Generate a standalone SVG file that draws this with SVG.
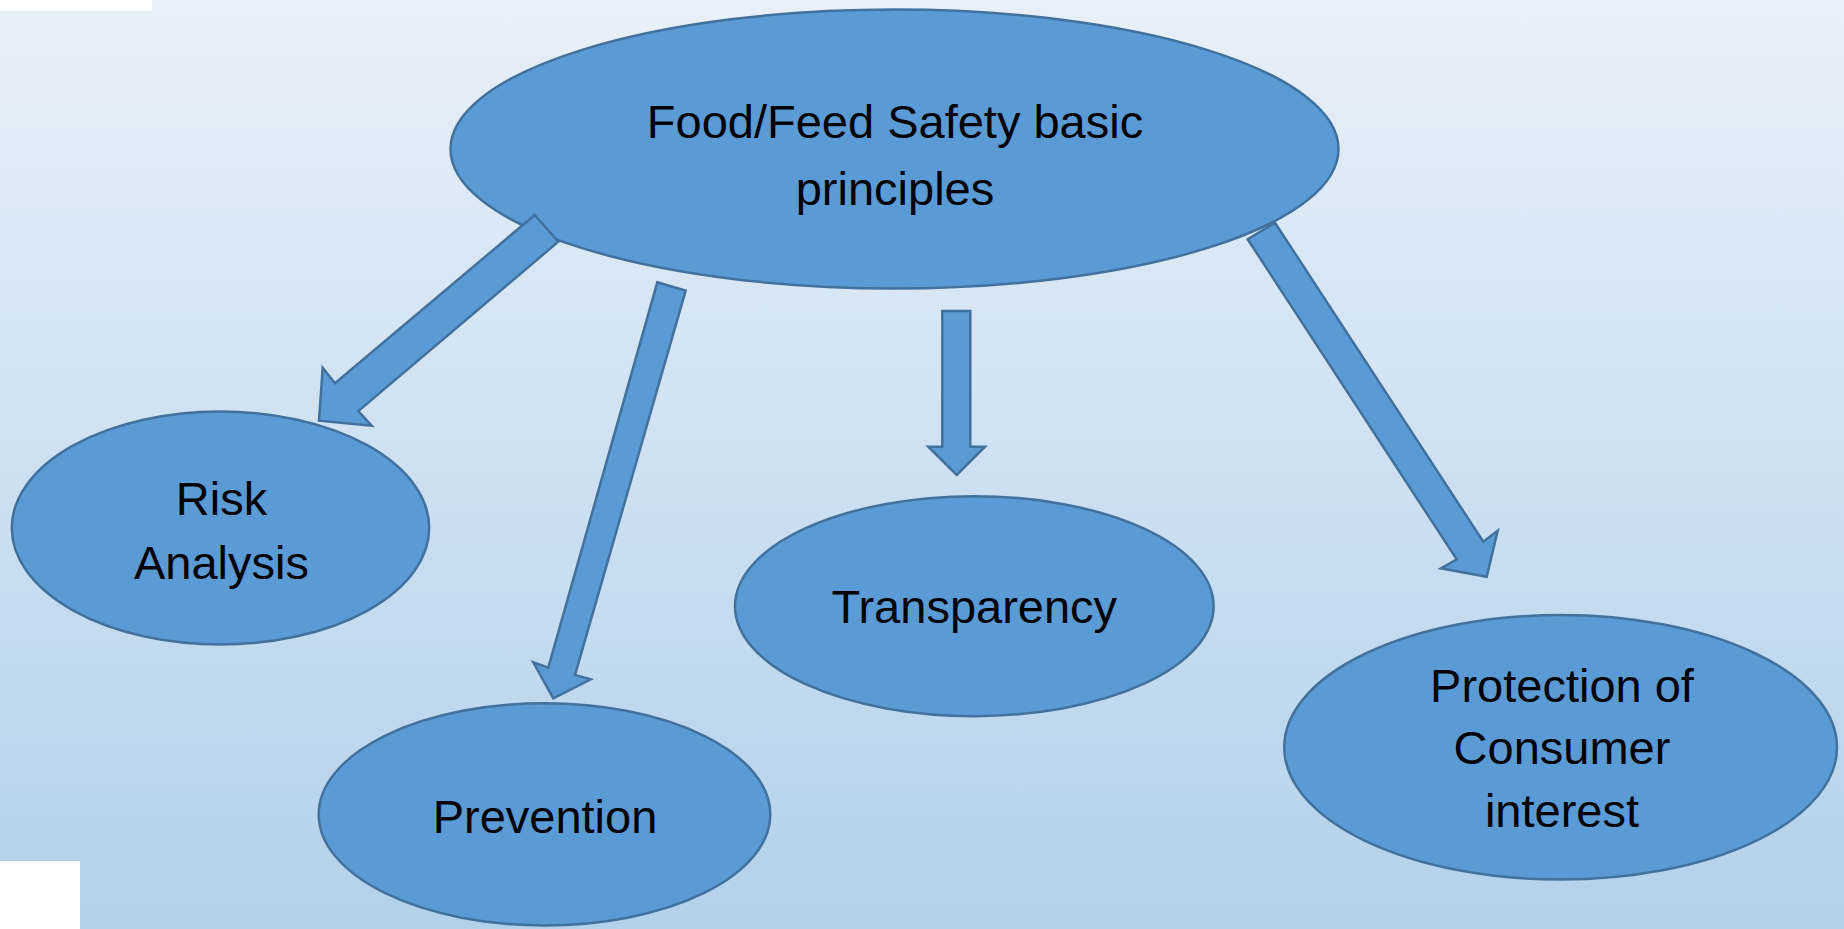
<svg xmlns="http://www.w3.org/2000/svg" width="1844" height="929" viewBox="0 0 1844 929">
<defs>
<linearGradient id="bg" x1="0" y1="0" x2="0" y2="1">
<stop offset="0" stop-color="#e9f0f9"/>
<stop offset="1" stop-color="#b2d1eb"/>
</linearGradient>
</defs>
<style>
.shape{fill:#5b9bd5;stroke:#41719c;stroke-width:2.5;stroke-linejoin:miter}
.lbl{font-family:"Liberation Sans",Arial,sans-serif;font-size:47px;fill:#000;text-anchor:middle}
</style>
<rect x="0" y="0" width="1844" height="929" fill="url(#bg)"/>
<rect x="0" y="0" width="152" height="11" fill="#ffffff"/>
<rect x="0" y="861" width="80" height="68" fill="#ffffff"/>
<g id="node-main">
<ellipse class="shape" cx="894.5" cy="149" rx="444" ry="139.5"/>
<text class="lbl" x="895" y="138">Food/Feed Safety basic</text>
<text class="lbl" x="895" y="205">principles</text>
</g>
<g id="connectors">
<polygon class="shape" points="534.7,215 335,383.3 322.7,367.7 319,420.7 371.7,425.7 358.3,411 558.3,241.7"/>
<polygon class="shape" points="657.3,282.3 685.7,290.7 575,675 590.7,679.3 553.3,698.3 533.3,662.3 548.3,667.7"/>
<polygon class="shape" points="942.3,311 970.3,311 970.3,446.7 985,446.7 956.7,475 928.3,446.7 942.3,446.7"/>
<polygon class="shape" points="1247.7,239.3 1275,222.7 1483.3,541.7 1497.7,530.7 1486.7,576.7 1441,568.3 1456.7,559.3"/>
</g>
<g id="node-risk">
<ellipse class="shape" cx="220.5" cy="528" rx="208.7" ry="116.4"/>
<text class="lbl" x="221.5" y="514.5">Risk</text>
<text class="lbl" x="221.5" y="578.5">Analysis</text>
</g>
<g id="node-prevention">
<ellipse class="shape" cx="544.5" cy="814.4" rx="225.8" ry="111.1"/>
<text class="lbl" x="545" y="832.7">Prevention</text>
</g>
<g id="node-transparency">
<ellipse class="shape" cx="974.3" cy="606.2" rx="239.3" ry="110"/>
<text class="lbl" x="974.3" y="623.3">Transparency</text>
</g>
<g id="node-protection">
<ellipse class="shape" cx="1560.6" cy="747.3" rx="276.4" ry="132.3"/>
<text class="lbl" x="1562" y="701.7">Protection of</text>
<text class="lbl" x="1562" y="763.8">Consumer</text>
<text class="lbl" x="1562" y="826.5">interest</text>
</g>
</svg>
